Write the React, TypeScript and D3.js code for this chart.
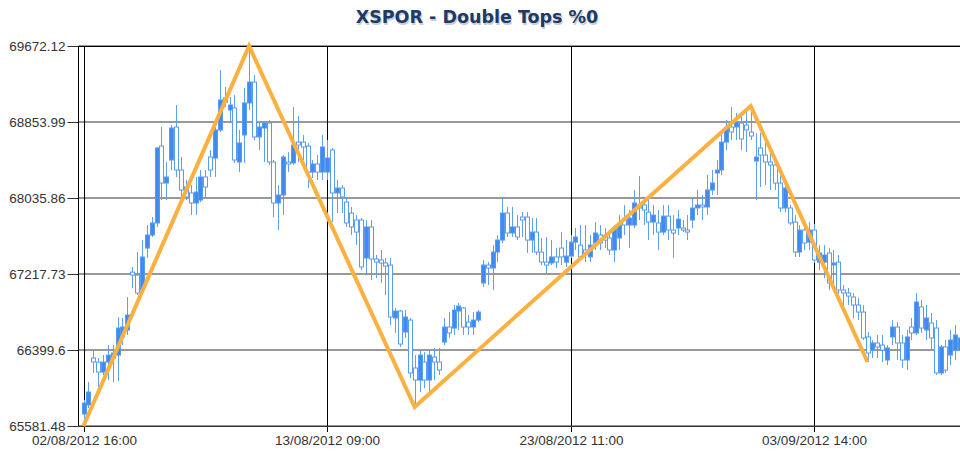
import React, { useEffect, useRef } from 'react';
import * as d3 from 'd3';

// hourly candles (index 0 = 02/08/2012 16:00)
const opens = [
  65710, 65807, 66313, 66270, 66162, 66270, 66313, 66345, 66540, 66615,
  67238, 67206, 67045, 67497, 67637, 67767, 68595, 68197, 68445, 68800,
  68337, 68154, 68090, 67982, 68014, 68262, 68477, 68466, 68768, 69069,
  68983, 69005, 68423, 68714, 69059, 69284, 68693, 68789, 68843, 68423,
  67982, 68068, 68423, 68413, 68638, 68638, 68595, 68315, 68402, 68315,
  68315, 68552, 68090, 68143, 67992, 67874, 67799, 67799, 67390, 67724,
  67379, 67368, 67336, 67314, 66744, 66819, 66593, 66722, 66206, 66076,
  66270, 66076, 66324, 66270, 66485, 66647, 66636, 66819, 66852, 66700,
  66647, 66722, 67121, 67314, 67282, 67454, 67583, 67874, 67659, 67724,
  67831, 67831, 67583, 67669, 67454, 67346, 67336, 67401, 67497, 67346,
  67411, 67561, 67529, 67476, 67401, 67551, 67637, 67637, 67605, 67476,
  67605, 67799, 67745, 67745, 67960, 67960, 67884, 67777, 67767, 67669,
  67841, 67691, 67713, 67713, 67691, 67799, 67928, 67960, 67939, 68122,
  68305, 68337, 68638, 68800, 68800, 68843, 68821, 68746, 68434, 68574,
  68498, 68423, 68391, 68197, 67928, 67928, 67777, 67454, 67691, 67561,
  67691, 67346, 67346, 67444, 67314, 67346, 67045, 67013, 66970, 66884,
  66808, 66540, 66399, 66475, 66453, 66292, 66540, 66647, 66475, 66292,
  66647, 66583, 66863, 66615, 66690, 66636, 66152, 66432, 66345, 66399,
  66399,
];
const highs = [
  65861, 66054, 66399, 66313, 66345, 66453, 66453, 66755, 66744, 66970,
  67293, 67454, 67583, 67745, 67831, 68585, 68800, 68423, 68821, 69037,
  68477, 68229, 68175, 68262, 68337, 68337, 68552, 68800, 69413, 69231,
  69123, 69144, 68768, 69220, 69672.12, 69359, 68853, 68853, 68875, 68445,
  68175, 68498, 68530, 69016, 68918, 68714, 68628, 68445, 68498, 68714,
  68660, 68574, 68229, 68175, 68047, 67939, 67852, 67820, 67799, 67799,
  67422, 67476, 67390, 67390, 66852, 66830, 66830, 66744, 66345, 66399,
  66377, 66399, 66421, 66421, 66744, 66808, 66884, 66906, 66863, 66776,
  66808, 66830, 67368, 67346, 67529, 67637, 68047, 67939, 67939, 67852,
  67884, 67884, 67820, 67820, 67605, 67616, 67583, 67497, 67669, 67583,
  67637, 67713, 67745, 67745, 67637, 67777, 67745, 67713, 67691, 67745,
  67852, 67960, 67906, 68122, 68272, 68036, 68014, 67960, 67906, 67960,
  67960, 67852, 67906, 67799, 67852, 68036, 68122, 68068, 68283, 68337,
  68445, 68714, 68875, 69016, 68951, 68961, 68983, 69026, 68736, 68736,
  68660, 68552, 68477, 68283, 68175, 67960, 67852, 67745, 67777, 67777,
  67756, 67529, 67529, 67497, 67476, 67422, 67099, 67067, 67013, 66959,
  66884, 66593, 66507, 66561, 66561, 66453, 66722, 66700, 66561, 66615,
  66744, 67013, 66938, 66884, 66798, 66722, 66453, 66507, 66615, 66668,
  66583,
];
const lows = [
  65581.48, 65775, 66152, 66001, 66130, 66076, 66054, 66065, 66453, 66561,
  67067, 66991, 67013, 67390, 67616, 67724, 68014, 68014, 68337, 68262,
  68047, 68014, 67852, 67852, 67992, 68047, 68262, 68262, 68746, 69016,
  68853, 68413, 68315, 68413, 68983, 68660, 68552, 68423, 68391, 67831,
  67691, 67852, 68315, 68391, 68423, 68445, 68143, 68251, 68229, 68229,
  68229, 67777, 67874, 67874, 67724, 67637, 67529, 67260, 67206, 67153,
  67174, 67121, 66991, 66668, 66583, 66432, 66529, 66098, 65786, 65947,
  65990, 65947, 66076, 66130, 66453, 66529, 66561, 66615, 66561, 66561,
  66561, 66700, 67078, 67099, 67045, 67346, 67551, 67616, 67616, 67583,
  67616, 67444, 67444, 67422, 67314, 67228, 67314, 67282, 67314, 67293,
  67390, 67476, 67368, 67346, 67346, 67476, 67476, 67497, 67422, 67346,
  67476, 67637, 67497, 67713, 67799, 67745, 67583, 67637, 67476, 67637,
  67583, 67390, 67637, 67669, 67583, 67713, 67852, 67799, 67852, 68068,
  68068, 68283, 68552, 68660, 68660, 68552, 68530, 68660, 68014, 68154,
  68175, 68122, 68122, 67884, 67884, 67745, 67401, 67401, 67476, 67476,
  67336, 67260, 67174, 67045, 67045, 66938, 66808, 66884, 66744, 66722,
  66507, 66270, 66313, 66313, 66270, 66238, 66453, 66292, 66206, 66184,
  66507, 66561, 66583, 66507, 66399, 66130, 66130, 66152, 66238, 66292,
  66270,
];
const closes = [
  65829, 65947, 66270, 66162, 66270, 66345, 66367, 66636, 66647, 66776,
  67206, 67013, 67401, 67637, 67767, 68574, 68197, 68262, 68789, 68337,
  68122, 68047, 67982, 68100, 68262, 68154, 68337, 68768, 69091, 69112,
  69037, 68445, 68628, 69059, 69284, 68693, 68800, 68843, 68423, 67982,
  68068, 68477, 68402, 68606, 68606, 68585, 68315, 68402, 68315, 68585,
  68466, 68090, 68143, 68047, 67767, 67724, 67669, 67293, 67724, 67379,
  67346, 67336, 67303, 66755, 66819, 66464, 66755, 66152, 66076, 66345,
  66076, 66345, 66270, 66184, 66647, 66583, 66830, 66873, 66647, 66647,
  66722, 66808, 67314, 67282, 67454, 67583, 67874, 67659, 67724, 67616,
  67799, 67583, 67669, 67454, 67346, 67314, 67401, 67346, 67401, 67411,
  67561, 67616, 67401, 67444, 67529, 67659, 67551, 67583, 67476, 67713,
  67745, 67745, 67820, 67982, 67928, 67906, 67777, 67852, 67669, 67841,
  67691, 67659, 67809, 67691, 67669, 67928, 67960, 67939, 68122, 68197,
  68337, 68638, 68789, 68746, 68853, 68671, 68768, 68703, 68477, 68498,
  68423, 68391, 68197, 67928, 68143, 67767, 67454, 67691, 67551, 67691,
  67368, 67444, 67422, 67121, 67336, 67045, 67013, 66980, 66884, 66808,
  66529, 66367, 66475, 66432, 66399, 66421, 66647, 66475, 66292, 66540,
  66583, 66916, 66636, 66744, 66529, 66152, 66432, 66184, 66507, 66561,
  66529,
];

const xTickIndex = [0, 50, 100, 150];
const xTickLabels = ['02/08/2012 16:00', '13/08/2012 09:00', '23/08/2012 11:00', '03/09/2012 14:00'];
const yTicks = [65581.48, 66399.6, 67217.73, 68035.86, 68853.99, 69672.12];

// double tops zigzag
const zigIndex = [0, 34, 68, 137, 161];
const zigValue = [65581.48, 69672.12, 65786, 69026, 66270];

const App = () => {
  const chartRef = useRef<SVGSVGElement>(null);

  useEffect(() => {
    const svg = d3.select(chartRef.current);
    svg.selectAll('*').remove();

    const left = 78.5;
    const top = 46;
    const bottom = 426;
    const right = 975;

    const xScale = d3.scaleLinear().domain([0, 50]).range([83.5, 327]);
    const yScale = d3.scaleLinear()
      .domain([yTicks[0], yTicks[yTicks.length - 1]])
      .range([bottom, top]);
    const px = (i: number) => Math.round(xScale(i)) + 0.5;

    const title = 'XSPOR - Double Tops %0';
    svg.append('text')
      .attr('x', 477)
      .attr('y', 23)
      .attr('text-anchor', 'middle')
      .attr('font-family', 'DejaVu Sans, sans-serif')
      .attr('font-weight', 'bold')
      .attr('font-size', '17.5px')
      .attr('fill', '#c9ced6')
      .attr('transform', 'translate(1,1.5)')
      .text(title);
    svg.append('text')
      .attr('x', 477)
      .attr('y', 23)
      .attr('text-anchor', 'middle')
      .attr('font-family', 'DejaVu Sans, sans-serif')
      .attr('font-weight', 'bold')
      .attr('font-size', '17.5px')
      .attr('fill', '#1d3a66')
      .text(title);

    // horizontal grid
    svg.append('g')
      .selectAll('line')
      .data(yTicks)
      .enter()
      .append('line')
      .attr('x1', left)
      .attr('x2', right)
      .attr('y1', d => yScale(d))
      .attr('y2', d => yScale(d))
      .attr('stroke', '#333')
      .attr('stroke-width', 1);

    // vertical grid
    svg.append('g')
      .selectAll('line')
      .data(xTickIndex)
      .enter()
      .append('line')
      .attr('x1', d => px(d))
      .attr('x2', d => px(d))
      .attr('y1', top)
      .attr('y2', bottom)
      .attr('stroke', '#000')
      .attr('stroke-width', 1);

    const yAxis = d3.axisLeft(yScale)
      .tickValues(yTicks)
      .tickSize(11)
      .tickSizeOuter(0)
      .tickPadding(2)
      .tickFormat(d => String(d));
    const yAxisG = svg.append('g')
      .attr('transform', `translate(${left},0)`)
      .call(yAxis);
    yAxisG.select('.domain').remove();
    yAxisG.selectAll('.tick line').attr('stroke', '#333');
    yAxisG.selectAll('.tick text')
      .attr('font-family', 'Liberation Sans, Arial, sans-serif')
      .attr('font-size', '13.5px')
      .attr('fill', '#333');

    const xAxis = d3.axisBottom(xScale)
      .tickValues(xTickIndex)
      .tickSize(6)
      .tickSizeOuter(0)
      .tickPadding(3)
      .tickFormat((d, i) => xTickLabels[i]);
    const xAxisG = svg.append('g')
      .attr('transform', `translate(0,${bottom})`)
      .call(xAxis);
    xAxisG.select('.domain').remove();
    xAxisG.selectAll('.tick').attr('transform', d => `translate(${px(d as number)},0)`);
    xAxisG.selectAll('.tick line').attr('stroke', '#000');
    xAxisG.selectAll('.tick text')
      .attr('font-family', 'Liberation Sans, Arial, sans-serif')
      .attr('font-size', '13.5px')
      .attr('fill', '#333');

    // plot border
    svg.append('line')
      .attr('x1', left).attr('x2', left)
      .attr('y1', top).attr('y2', bottom)
      .attr('stroke', '#000');
    svg.append('line')
      .attr('x1', left).attr('x2', right)
      .attr('y1', top + 0.5).attr('y2', top + 0.5)
      .attr('stroke', '#000');
    svg.append('line')
      .attr('x1', left).attr('x2', right)
      .attr('y1', bottom + 0.5).attr('y2', bottom + 0.5)
      .attr('stroke', '#333');

    // candles
    const idx = d3.range(opens.length);
    const candles = svg.append('g');
    candles.selectAll('line')
      .data(idx)
      .enter()
      .append('line')
      .attr('x1', i => px(i))
      .attr('x2', i => px(i))
      .attr('y1', i => yScale(highs[i]))
      .attr('y2', i => yScale(lows[i]))
      .attr('stroke', '#5f9ff2')
      .attr('stroke-width', 1);
    candles.selectAll('rect')
      .data(idx)
      .enter()
      .append('rect')
      .attr('x', i => px(i) - 2)
      .attr('width', 4)
      .attr('y', i => yScale(Math.max(opens[i], closes[i])))
      .attr('height', i => Math.max(1, Math.abs(yScale(opens[i]) - yScale(closes[i]))))
      .attr('fill', i => (closes[i] >= opens[i] ? '#3f8bef' : '#fff'))
      .attr('stroke', '#5a9bf2')
      .attr('stroke-width', 1);

    // zigzag
    const zig = d3.line<number>()
      .x((d, k) => xScale(zigIndex[k]))
      .y(d => yScale(d));
    svg.append('path')
      .datum(zigValue)
      .attr('d', zig)
      .attr('fill', 'none')
      .attr('stroke', '#fbb040')
      .attr('stroke-width', 4)
      .attr('stroke-linejoin', 'miter');
  }, []);

  return (
    <svg
      ref={chartRef}
      width={960}
      height={455}
      style={{ position: 'absolute', left: 0, top: 0, background: '#fff' }}
    />
  );
};

export default App;
